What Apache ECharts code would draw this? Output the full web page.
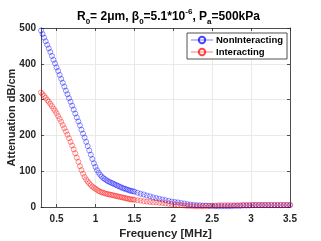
<!DOCTYPE html>
<html>
<head>
<meta charset="utf-8">
<script src="https://cdn.jsdelivr.net/npm/echarts@6/dist/echarts.min.js"></script>
<style>html,body{margin:0;padding:0;background:#fff;}#c{width:321px;height:241px;}</style>
</head>
<body>
<div id="c"></div>
<script>
var freq = [0.30,0.32,0.34,0.36,0.38,0.40,0.42,0.44,0.46,0.48,
0.50,0.52,0.54,0.56,0.58,0.60,0.62,0.64,0.66,0.68,
0.70,0.72,0.74,0.76,0.78,0.80,0.82,0.84,0.86,0.88,
0.90,0.92,0.94,0.96,0.98,1.00,1.02,1.04,1.06,1.08,
1.10,1.12,1.14,1.16,1.18,1.20,1.22,1.24,1.26,1.28,
1.30,1.32,1.34,1.36,1.38,1.40,1.42,1.44,1.46,1.48,
1.50,
1.54,1.58,1.62,1.66,1.70,1.74,1.78,1.82,1.86,
1.90,1.94,1.98,2.02,2.06,2.10,2.14,2.18,2.22,2.26,
2.30,2.34,2.38,2.42,2.46,2.50,2.54,2.58,2.62,2.66,
2.70,2.74,2.78,2.82,2.86,2.90,2.94,2.98,3.02,3.06,
3.10,3.14,3.18,3.22,3.26,3.30,3.34,3.38,3.42,3.46,
3.50];
var nonInteracting = [493,483,473,463,453,443,433,422,411,401,
390,380,369,358,347,336,325,315,304,294,
283,272,261,250,239,228,216,205,194,182,
170,158,146,134,122,112,103,96,90,85,
81,78,75,72,70,68,66,64,62,60,
58,56,54,52,51,49,48,46,45,44,
43,
40,37,35,32,30,27,25,23,21,
19,17,15,14,13,11,10,8,7,6,
5,5,4,4,3,3,2,2,2,2,
2,2,3,3,3,4,4,4,5,5,
5,5,5,5,5,5,5,5,5,5,
5];
var interacting = [320,315,310,305,299,294,288,282,275,269,
262,254,246,238,229,220,211,202,192,182,
172,161,150,138,126,114,103,93,84,77,
71,66,61,57,54,51,48,45,43,41,
40,38,37,36,35,34,33,32,31,30,
29,28,27,26,25,24,23,22,21,21,
20,
19,18,16,15,14,13,13,12,11,
10,9,8,7,6,5,4,3,3,2,
2,2,2,3,3,4,4,5,5,5,
5,5,5,5,5,6,6,6,6,6,
6,6,6,6,6,6,6,6,6,6,
6];
var xTicks = [0.5,1,1.5,2,2.5,3,3.5];
var seriesNames = ['NonInteracting','Interacting'];

function pairs(xs, ys){ return xs.map(function(x,i){ return [x, ys[i]]; }); }

var FONT = 'Liberation Sans, Arial, sans-serif';
var AX = '#262626';
var chart = echarts.init(document.getElementById('c'), null, {renderer:'canvas'});
chart.setOption({
  animation: false,
  backgroundColor: '#fff',
  title: {
    text: '{b|R}{s|0}{b|= 2}{b|μ}{b|m, β}{s|0}{b|=5.1*10}{p|-6}{b|, P}{s|a}{b|=500kPa}',
    left: 72, top: 3,
    textStyle: {
      rich: {
        b: {fontSize: 12, fontWeight: 'bold', color: '#000', fontFamily: FONT, lineHeight: 18, verticalAlign: 'middle'},
        s: {fontSize: 8, fontWeight: 'bold', color: '#000', fontFamily: FONT, lineHeight: 8, verticalAlign: 'bottom'},
        p: {fontSize: 8, fontWeight: 'bold', color: '#000', fontFamily: FONT, lineHeight: 8, verticalAlign: 'top'}
      }
    }
  },
  legend: {
    orient: 'vertical',
    left: 187, top: 33,
    itemWidth: 22, itemHeight: 8, itemGap: 2,
    padding: [2, 4, 2, 3],
    backgroundColor: '#fff',
    borderColor: AX, borderWidth: 0.8, borderRadius: 0,
    textStyle: {fontSize: 9.5, fontWeight: 'bold', color: '#000', fontFamily: FONT, padding: [0,0,0,-2]},
    data: seriesNames
  },
  grid: {left: 41, right: 31, top: 28, bottom: 34, containLabel: false, outerBoundsMode: 'none'},
  xAxis: [{
    type: 'value', min: 0.3, max: 3.5, position: 'bottom',
    name: 'Frequency [MHz]', nameLocation: 'middle', nameGap: 21, nameMoveOverlap: false,
    nameTextStyle: {fontSize: 11.5, fontWeight: 'bold', color: '#262626', fontFamily: FONT},
    axisLine: {show: true, onZero: false, lineStyle: {color: AX, width: 0.8}},
    axisTick: {show: true, inside: true, length: 3, customValues: xTicks, lineStyle: {color: AX, width: 0.8}},
    axisLabel: {customValues: xTicks, margin: 7, fontSize: 10, fontWeight: 'bold', color: '#262626', fontFamily: FONT},
    splitLine: {show: true, lineStyle: {color: '#e3e3e3', width: 0.8}}
  }, {
    type: 'value', min: 0.3, max: 3.5, position: 'top',
    axisLine: {show: true, onZero: false, lineStyle: {color: AX, width: 0.8}},
    axisTick: {show: true, inside: true, length: 3, customValues: xTicks, lineStyle: {color: AX, width: 0.8}},
    axisLabel: {show: false},
    splitLine: {show: false}
  }],
  yAxis: [{
    type: 'value', min: 0, max: 500, interval: 100, position: 'left',
    name: 'Attenuation dB/cm', nameLocation: 'middle', nameGap: 24, nameMoveOverlap: false,
    nameTextStyle: {fontSize: 11, fontWeight: 'bold', color: '#262626', fontFamily: FONT},
    axisLine: {show: true, onZero: false, lineStyle: {color: AX, width: 0.8}},
    axisTick: {show: true, inside: true, length: 3, lineStyle: {color: AX, width: 0.8}},
    axisLabel: {margin: 5, fontSize: 10, fontWeight: 'bold', color: '#262626', fontFamily: FONT},
    splitLine: {show: true, lineStyle: {color: '#e3e3e3', width: 0.8}}
  }, {
    type: 'value', min: 0, max: 500, interval: 100, position: 'right',
    axisLine: {show: true, onZero: false, lineStyle: {color: AX, width: 0.8}},
    axisTick: {show: true, inside: true, length: 3, lineStyle: {color: AX, width: 0.8}},
    axisLabel: {show: false},
    splitLine: {show: false}
  }],
  series: [{
    name: seriesNames[0], type: 'line', data: pairs(freq, nonInteracting),
    xAxisIndex: 0, yAxisIndex: 0,
    symbol: 'circle', symbolSize: 5, showAllSymbol: true,
    lineStyle: {width: 0.5, color: 'rgba(90,90,255,0.4)'},
    itemStyle: {color: 'rgba(0,0,255,0)', borderColor: 'rgba(0,0,255,0.72)', borderWidth: 0.6}
  }, {
    name: seriesNames[1], type: 'line', data: pairs(freq, interacting),
    xAxisIndex: 0, yAxisIndex: 0,
    symbol: 'circle', symbolSize: 5, showAllSymbol: true,
    lineStyle: {width: 0.5, color: 'rgba(255,90,90,0.4)'},
    itemStyle: {color: 'rgba(255,0,0,0)', borderColor: 'rgba(255,0,0,0.72)', borderWidth: 0.6}
  }]
});
</script>
</body>
</html>
